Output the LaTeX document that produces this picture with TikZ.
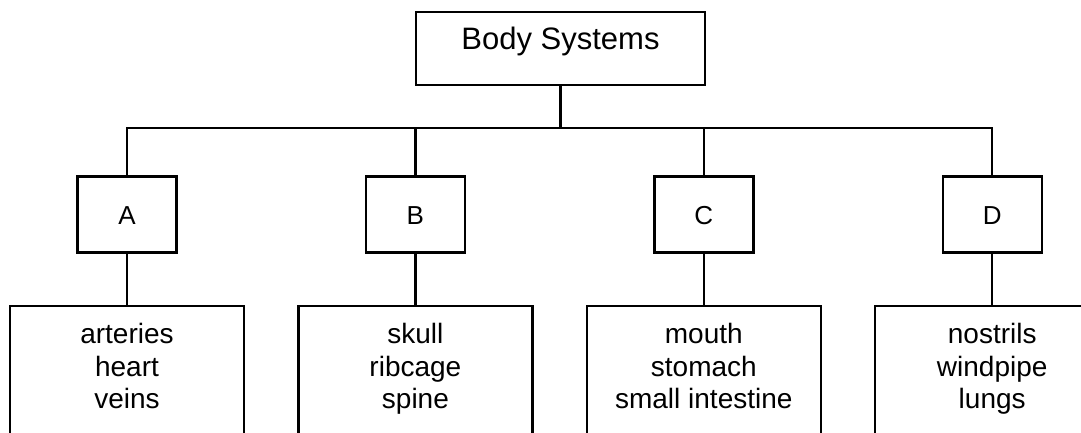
\documentclass[tikz,border=0pt]{standalone}
\usepackage{fontspec}
\setmainfont{Liberation Sans}
\usetikzlibrary{positioning}
\tikzset{
    rootbox/.style={rectangle, draw, line width=2.4pt, minimum width=289pt, minimum height=73pt, font=\fontsize{31}{36}\selectfont, text height=22pt, text depth=19pt},
    sysbox/.style={rectangle, draw, line width=2.4pt, minimum width=99pt, minimum height=76pt, font=\fontsize{26}{30}\selectfont, text height=20pt, text depth=0pt},
    listbox/.style={rectangle, draw, line width=2.4pt, minimum width=234pt, minimum height=136pt, align=center, font=\fontsize{28}{32.5}\selectfont, text height=80pt, text depth=10pt},
    link/.style={line width=2.4pt},
}
\begin{document}
\begin{tikzpicture}[x=1pt, y=1pt, node distance=51pt and 187pt]
    \useasboundingbox (0,0) rectangle (1081,432);
    \clip (0,0) rectangle (1081,432);
    \node[rootbox] (body) at (560.5,383.5) {Body Systems};
    \node[sysbox] (A) at (127,217.5) {A};
    \node[sysbox, right=of A] (B) {B};
    \node[sysbox, right=of B] (C) {C};
    \node[sysbox, right=of C] (D) {D};
    \node[listbox, below=of A] (listA) {arteries\\heart\\veins};
    \node[listbox, below=of B] (listB) {skull\\ribcage\\spine};
    \node[listbox, below=of C] (listC) {mouth\\stomach\\small intestine};
    \node[listbox, below=of D] (listD) {nostrils\\windpipe\\lungs};
    \coordinate (bus) at (0,304);
    \draw[link] (body.south) -- (body.south |- bus);
    \draw[link] (A.north) |- (bus -| D.north) -- (D.north);
    \draw[link] (B.north) -- (B.north |- bus);
    \draw[link] (C.north) -- (C.north |- bus);
    \foreach \s in {A,B,C,D}
        \draw[link] (\s.south) -- (list\s.north);
\end{tikzpicture}
\end{document}
